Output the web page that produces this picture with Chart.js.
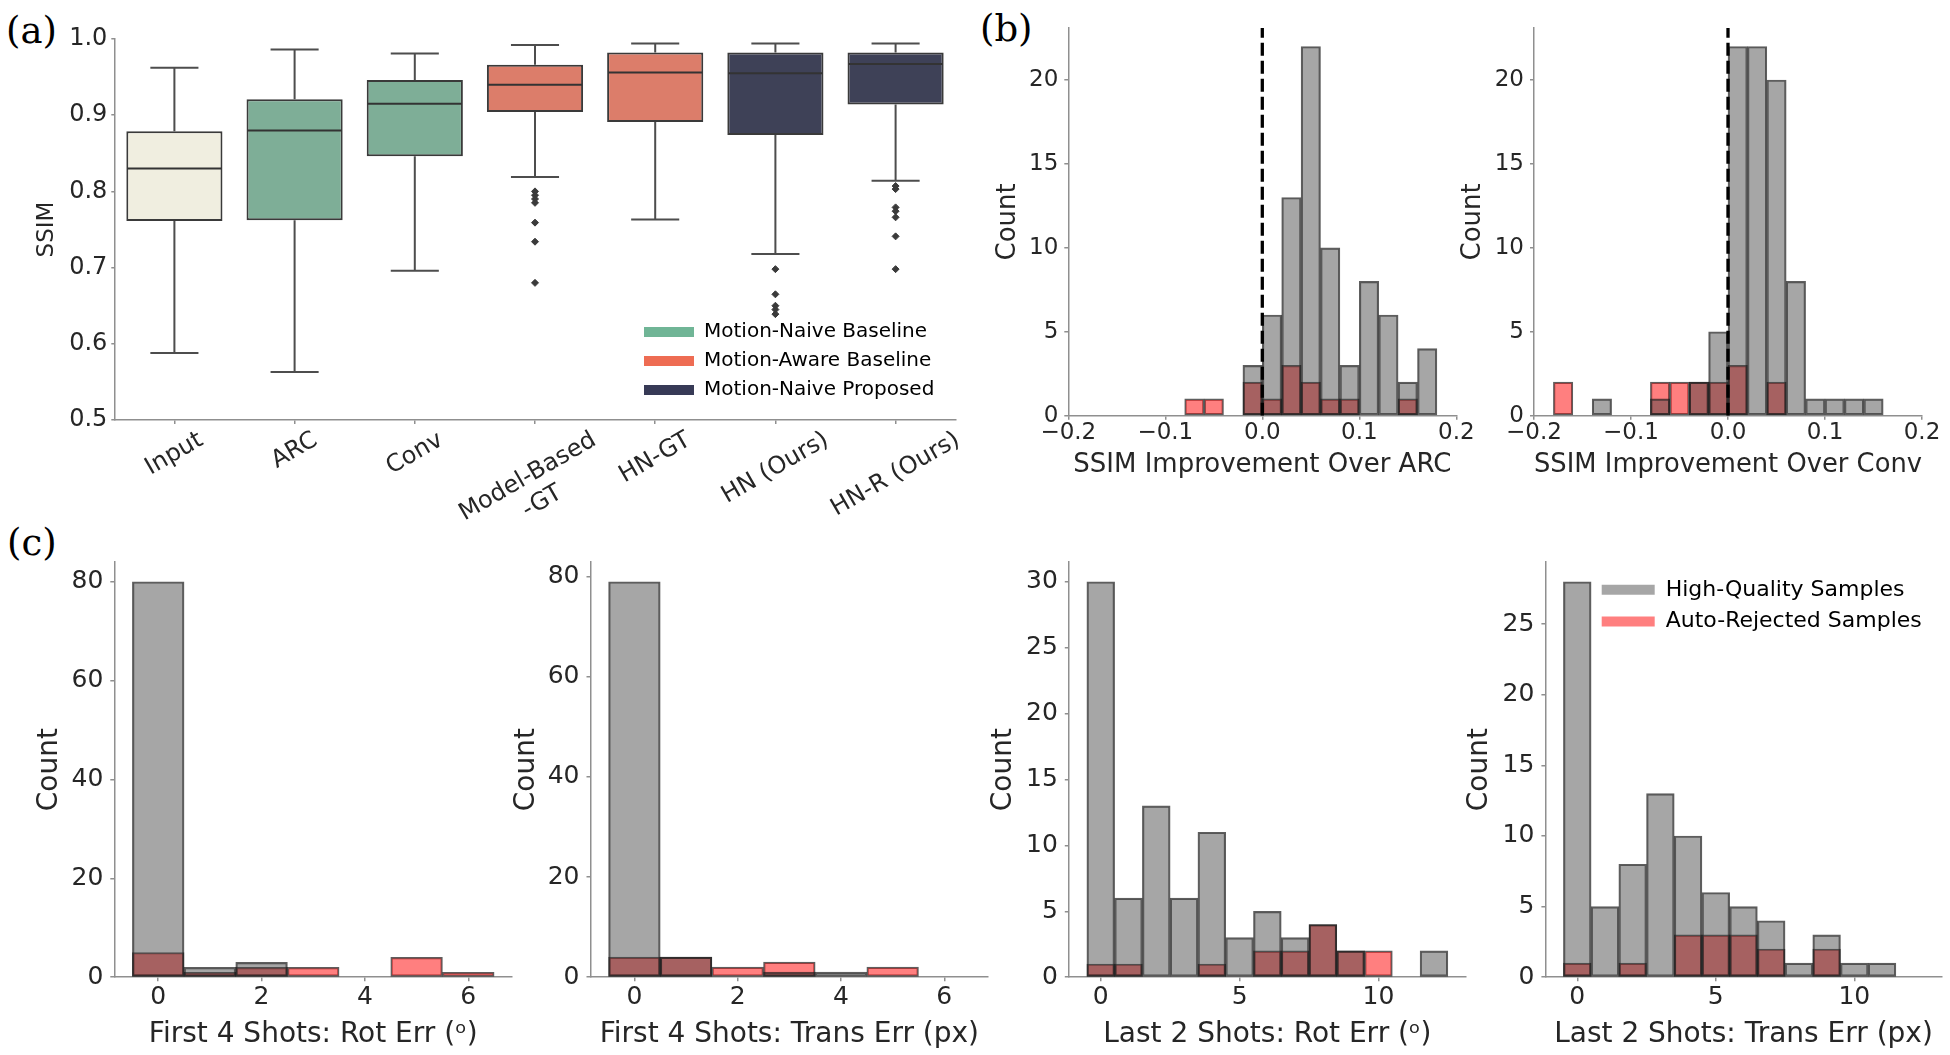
<!DOCTYPE html>
<html>
<head>
<meta charset="utf-8">
<script src="https://cdn.jsdelivr.net/npm/chart.js@4.4.1/dist/chart.umd.min.js"></script>
<style>
html,body{margin:0;padding:0;background:#ffffff;}
body{width:1950px;height:1055px;position:relative;overflow:hidden;font-family:"DejaVu Sans",sans-serif;}
.panel{position:absolute;font-family:"DejaVu Serif",serif;font-size:37px;line-height:37px;color:#000;}
</style>
</head>
<body>
<div class="panel" style="left:6px;top:12px">(a)</div>
<div class="panel" style="left:980px;top:10px">(b)</div>
<div class="panel" style="left:7px;top:524px">(c)</div>
<script>
// ---------------- DATA ----------------
// Panel (a): box plot of SSIM
const boxCategories = ['Input', 'ARC', 'Conv', 'Model-Based\n-GT', 'HN-GT', 'HN (Ours)', 'HN-R (Ours)'];
const boxGroups = ['input', 'naive', 'naive', 'aware', 'aware', 'proposed', 'proposed'];
const whiskerLow  = [0.588, 0.563, 0.696, 0.819, 0.763, 0.718, 0.814];
const q1          = [0.761, 0.762, 0.846, 0.904, 0.891, 0.874, 0.914];
const median      = [0.830, 0.880, 0.915, 0.940, 0.956, 0.955, 0.967];
const q3          = [0.879, 0.921, 0.946, 0.966, 0.982, 0.982, 0.982];
const whiskerHigh = [0.962, 0.986, 0.981, 0.992, 0.994, 0.994, 0.994];
const outliersModelBased = [0.800, 0.795, 0.790, 0.785, 0.759, 0.734, 0.680];
const outliersHN = [0.698, 0.665, 0.650, 0.645, 0.639];
const outliersHNR = [0.807, 0.803, 0.779, 0.774, 0.766, 0.741, 0.698];
const boxLegendLabels = ['Motion-Naive Baseline', 'Motion-Aware Baseline', 'Motion-Naive Proposed'];

// Panel (b): SSIM improvement histograms
const seriesNames = ['High-Quality Samples', 'Auto-Rejected Samples'];
const arcBins     = [-0.07, -0.05, -0.01, 0.01, 0.03, 0.05, 0.07, 0.09, 0.11, 0.13, 0.15, 0.17];
const arcHigh     = [0, 0, 3, 6, 13, 22, 10, 3, 8, 6, 2, 4];
const arcRejected = [1, 1, 2, 1, 3, 2, 1, 1, 0, 0, 1, 0];
const convBins     = [-0.17, -0.13, -0.07, -0.05, -0.03, -0.01, 0.01, 0.03, 0.05, 0.07, 0.09, 0.11, 0.13, 0.15];
const convHigh     = [0, 1, 1, 0, 2, 5, 22, 22, 20, 8, 1, 1, 1, 1];
const convRejected = [2, 0, 2, 2, 2, 2, 3, 0, 2, 0, 0, 0, 0, 0];
const ssimTicks = [-0.2, -0.1, 0.0, 0.1, 0.2];

// Panel (c): motion error histograms
const first4Bins = [0, 1, 2, 3, 4, 5, 6];
const first4RotHigh     = [80, 2, 3, 0, 0, 0, 0];
const first4RotRejected = [5, 1, 2, 2, 0, 4, 1];
const first4TransHigh     = [79, 4, 0, 1, 1, 0, 0];
const first4TransRejected = [4, 4, 2, 3, 0, 2, 0];
const last2RotBins = [0, 1, 2, 3, 4, 5, 6, 7, 8, 9, 10, 11, 12];
const last2RotHigh     = [30, 6, 13, 6, 11, 3, 5, 3, 4, 2, 0, 0, 2];
const last2RotRejected = [1, 1, 0, 0, 1, 0, 2, 2, 4, 2, 2, 0, 0];
const last2TransBins = [0, 1, 2, 3, 4, 5, 6, 7, 8, 9, 10, 11];
const last2TransHigh     = [28, 5, 8, 13, 10, 6, 5, 4, 1, 3, 1, 1];
const last2TransRejected = [1, 0, 1, 0, 3, 3, 3, 2, 0, 2, 0, 0];

// ---------------- STYLE ----------------
Chart.defaults.font.family = '"DejaVu Sans", sans-serif';
Chart.defaults.color = '#262626';
const TEXT = '#262626';
const AXIS = '#8f8f8f';
const GRAY = 'rgba(60,60,60,0.46)';
const RED = 'rgba(255,0,0,0.5)';
const EDGE = 'rgba(25,25,25,0.7)';
const groupFill = { input: '#f0eee0', naive: '#7eae97', aware: '#dc7d6a', proposed: '#3e4157' };
const legendFill = ['#70b596', '#ee6c53', '#373a56'];

function mount(id, c) {
  const d = document.createElement('div');
  d.style.cssText = 'position:absolute;left:' + c.L + 'px;top:' + c.T + 'px;width:' + c.W + 'px;height:' + c.H + 'px;';
  const cv = document.createElement('canvas');
  cv.id = id;
  d.appendChild(cv);
  document.body.appendChild(d);
  return cv;
}
function frame(c, a) {
  return { yW: a.l - c.L, xH: c.T + c.H - a.b, padTop: a.t - c.T, padRight: c.L + c.W - a.r };
}

const legendPlace = {
  id: 'legendPlace',
  afterLayout(chart, args, opts) {
    const lg = chart.legend;
    if (!lg || !opts || opts.left == null) return;
    lg.left = opts.left; lg.top = opts.top;
    lg.right = opts.left + 600; lg.bottom = opts.top + 300;
    lg.width = 600; lg.height = 300;
  }
};

// ---------------- PANEL (a) ----------------
const boxFrameC = { L: 0, T: 0, W: 965, H: 545 };
const boxFrameA = { l: 114.3, t: 38.9, r: 955.7, b: 420.1 };
const fA = frame(boxFrameC, boxFrameA);

const outlierPoints = [].concat(
  outliersModelBased.map(v => ({ x: 'Model-Based\n-GT', y: v })),
  outliersHN.map(v => ({ x: 'HN (Ours)', y: v })),
  outliersHNR.map(v => ({ x: 'HN-R (Ours)', y: v }))
);

const boxParts = {
  id: 'boxParts',
  beforeDatasetsDraw(chart) {
    const { ctx } = chart; const x = chart.scales.x, y = chart.scales.y;
    const meta = chart.getDatasetMeta(1);
    ctx.save();
    ctx.strokeStyle = '#4d4d4d'; ctx.lineWidth = 2;
    boxCategories.forEach((c, i) => {
      const px = x.getPixelForValue(i);
      const capHalf = meta.data[i].width / 4;
      const yH = y.getPixelForValue(whiskerHigh[i]), yL = y.getPixelForValue(whiskerLow[i]);
      ctx.beginPath();
      ctx.moveTo(px, y.getPixelForValue(q3[i])); ctx.lineTo(px, yH);
      ctx.moveTo(px - capHalf, yH); ctx.lineTo(px + capHalf, yH);
      ctx.moveTo(px, y.getPixelForValue(q1[i])); ctx.lineTo(px, yL);
      ctx.moveTo(px - capHalf, yL); ctx.lineTo(px + capHalf, yL);
      ctx.stroke();
    });
    ctx.restore();
  },
  afterDatasetsDraw(chart) {
    const { ctx } = chart; const x = chart.scales.x, y = chart.scales.y;
    const meta = chart.getDatasetMeta(1);
    ctx.save();
    ctx.strokeStyle = '#333333'; ctx.lineWidth = 2;
    boxCategories.forEach((c, i) => {
      const px = x.getPixelForValue(i);
      const half = meta.data[i].width / 2 - 1;
      const ym = y.getPixelForValue(median[i]);
      ctx.beginPath(); ctx.moveTo(px - half, ym); ctx.lineTo(px + half, ym); ctx.stroke();
    });
    ctx.restore();
  },
  afterDraw(chart) {
    const { ctx } = chart; const x = chart.scales.x;
    const size = 24, lh = size * 1.2, th = 30 * Math.PI / 180;
    ctx.save();
    ctx.font = size + 'px "DejaVu Sans", sans-serif';
    ctx.fillStyle = TEXT;
    boxCategories.forEach((c, i) => {
      const lines = c.split('\n');
      const w = Math.max.apply(null, lines.map(l => ctx.measureText(l).width));
      const h = size * 1.0 + (lines.length - 1) * lh;
      const H = w * Math.sin(th) + h * Math.cos(th);
      const cx = x.getPixelForValue(i), cy = x.top + 8 + H / 2;
      ctx.save();
      ctx.translate(cx, cy); ctx.rotate(-th);
      ctx.textAlign = 'center'; ctx.textBaseline = 'middle';
      lines.forEach((l, k) => ctx.fillText(l, 0, (k - (lines.length - 1) / 2) * lh));
      ctx.restore();
    });
    ctx.restore();
  }
};

new Chart(mount('chartA', boxFrameC), {
  type: 'bar',
  data: {
    labels: boxCategories,
    datasets: [
      { type: 'line', label: 'Outliers', data: outlierPoints, showLine: false, pointStyle: 'rectRot',
        pointRadius: 3.5, pointHoverRadius: 3.5, backgroundColor: '#3a3a3a', borderColor: '#3a3a3a', borderWidth: 1, order: 0 },
      { type: 'bar', label: 'SSIM', data: q1.map((v, i) => [v, q3[i]]), backgroundColor: boxGroups.map(g => groupFill[g]),
        borderColor: '#3a3a3a', borderWidth: 2, borderSkipped: false, barPercentage: 0.8, categoryPercentage: 1, order: 1 }
    ]
  },
  options: {
    responsive: true, maintainAspectRatio: false, animation: false, events: [],
    layout: { autoPadding: false, padding: { top: fA.padTop, right: fA.padRight, left: 0, bottom: 0 } },
    plugins: {
      tooltip: { enabled: false },
      legend: {
        display: true, position: 'chartArea', align: 'start',
        labels: {
          boxWidth: 50, boxHeight: 10, padding: 9, font: { size: 20 }, color: TEXT,
          generateLabels: () => boxLegendLabels.map((t, i) => ({ text: t, fillStyle: legendFill[i], strokeStyle: legendFill[i], lineWidth: 0, hidden: false, index: i }))
        }
      },
      legendPlace: { left: 635, top: 313 }
    },
    scales: {
      x: {
        type: 'category', offset: true,
        grid: { display: true, drawOnChartArea: false, drawTicks: true, tickLength: 4, color: AXIS, lineWidth: 1.5, offset: false },
        border: { display: true, color: AXIS, width: 1.5 },
        ticks: { display: false },
        afterFit(s) { s.height = fA.xH; s.paddingLeft = 0; s.paddingRight = 0; }
      },
      y: {
        type: 'linear', min: 0.5, max: 1.0,
        grid: { display: true, drawOnChartArea: false, drawTicks: true, tickLength: 3, color: AXIS, lineWidth: 1.5 },
        border: { display: true, color: AXIS, width: 1.5 },
        ticks: { stepSize: 0.1, padding: 4, font: { size: 24 }, color: TEXT, callback: v => Number(v).toFixed(1) },
        title: { display: true, text: 'SSIM', font: { size: 23 }, color: TEXT, padding: { top: 32.9, bottom: 0 } },
        afterFit(s) { s.width = fA.yW; s.paddingTop = 0; s.paddingBottom = 0; }
      }
    }
  },
  plugins: [boxParts, legendPlace]
});

// ---------------- HISTOGRAMS ----------------
function histogram(id, o) {
  const f = frame(o.c, o.a);
  const toPts = (bins, vals) => bins.map((b, i) => ({ x: b, y: vals[i] })).filter(p => p.y > 0);
  const datasets = [];
  if (o.zeroLine) {
    datasets.push({ type: 'line', label: 'zero', data: [{ x: 0, y: 0 }, { x: 0, y: o.yMax }], borderColor: '#000000',
      borderWidth: 3.3, borderDash: [13, 5], pointRadius: 0, fill: false, order: 0 });
  }
  datasets.push({ type: 'bar', label: seriesNames[0], data: toPts(o.bins, o.high), backgroundColor: GRAY, borderColor: EDGE,
    borderWidth: 1.5, borderSkipped: false, grouped: false, barPercentage: 1, categoryPercentage: 1, order: 1 });
  datasets.push({ type: 'bar', label: seriesNames[1], data: toPts(o.bins, o.rejected), backgroundColor: RED, borderColor: EDGE,
    borderWidth: 1.5, borderSkipped: false, grouped: false, barPercentage: 1, categoryPercentage: 1, order: 2 });
  const legendOpts = o.legend ? {
    display: true, position: 'chartArea', align: 'start',
    labels: {
      boxWidth: 53, boxHeight: 10, padding: 9.8, font: { size: 22 }, color: TEXT,
      generateLabels: chart => chart.data.datasets.filter(d => d.type === 'bar').map((d, i) => ({ text: d.label, fillStyle: d.backgroundColor, strokeStyle: d.backgroundColor, lineWidth: 0, hidden: false, index: i }))
    }
  } : { display: false };
  return new Chart(mount(id, o.c), {
    type: 'bar',
    data: { datasets },
    options: {
      responsive: true, maintainAspectRatio: false, animation: false, events: [],
      layout: { autoPadding: false, padding: { top: f.padTop, right: f.padRight, left: 0, bottom: 0 } },
      plugins: { tooltip: { enabled: false }, legend: legendOpts, legendPlace: o.legendPos || {} },
      scales: {
        x: {
          type: 'linear', min: o.xMin, max: o.xMax, offset: false,
          grid: { display: true, drawOnChartArea: false, drawTicks: true, tickLength: 4, color: AXIS, lineWidth: 1.5, offset: false },
          border: { display: true, color: AXIS, width: 1.5 },
          ticks: { stepSize: o.xStep, includeBounds: false, autoSkip: false, maxRotation: 0, minRotation: 0, padding: o.xPad,
            font: { size: o.tickSize }, color: TEXT, callback: o.xFmt },
          title: { display: true, text: o.xTitle, font: { size: o.titleSize }, color: TEXT, padding: { top: 0, bottom: o.xTitlePad } },
          afterFit(s) { s.height = f.xH; s.paddingLeft = 0; s.paddingRight = 0; }
        },
        y: {
          type: 'linear', min: 0, max: o.yMax,
          grid: { display: true, drawOnChartArea: false, drawTicks: true, tickLength: 4, color: AXIS, lineWidth: 1.5 },
          border: { display: true, color: AXIS, width: 1.5 },
          ticks: { stepSize: o.yStep, includeBounds: false, padding: o.yPad, font: { size: o.tickSize }, color: TEXT, callback: v => String(v) },
          title: { display: true, text: 'Count', font: { size: o.titleSize }, color: TEXT, padding: { top: o.yTitlePad, bottom: 0 } },
          afterFit(s) { s.width = f.yW; s.paddingTop = 0; s.paddingBottom = 0; }
        }
      }
    },
    plugins: [legendPlace]
  });
}

const ssimFmt = v => {
  const r = Math.round(v * 10) / 10;
  return (r < 0 ? '\u2212' : '') + Math.abs(r).toFixed(1);
};
const intFmt = v => String(Math.round(v));

histogram('chartB1', {
  c: { L: 965, T: 0, W: 525, H: 510 }, a: { l: 1068.3, t: 28, r: 1456.3, b: 415.7 },
  bins: arcBins, high: arcHigh, rejected: arcRejected, zeroLine: true,
  xMin: ssimTicks[0], xMax: ssimTicks[ssimTicks.length - 1], xStep: 0.1, xFmt: ssimFmt,
  yMax: 23.1, yStep: 5, tickSize: 23, titleSize: 26, xPad: 0, yPad: 6,
  xTitle: 'SSIM Improvement Over ARC', xTitlePad: 29.4, yTitlePad: 27.7
});
histogram('chartB2', {
  c: { L: 1440, T: 0, W: 510, H: 510 }, a: { l: 1534, t: 28, r: 1922, b: 415.7 },
  bins: convBins, high: convHigh, rejected: convRejected, zeroLine: true,
  xMin: ssimTicks[0], xMax: ssimTicks[ssimTicks.length - 1], xStep: 0.1, xFmt: ssimFmt,
  yMax: 23.1, yStep: 5, tickSize: 23, titleSize: 26, xPad: 0, yPad: 6,
  xTitle: 'SSIM Improvement Over Conv', xTitlePad: 29.4, yTitlePad: 17.7
});
histogram('chartC1', {
  c: { L: 0, T: 520, W: 520, H: 535 }, a: { l: 114.3, t: 562, r: 512.2, b: 977.2 },
  bins: first4Bins, high: first4RotHigh, rejected: first4RotRejected,
  xMin: -0.85, xMax: 6.85, xStep: 2, xFmt: intFmt,
  yMax: 84, yStep: 20, tickSize: 25, titleSize: 28, xPad: 1.4, yPad: 7,
  xTitle: 'First 4 Shots: Rot Err (\u1d52)', xTitlePad: 3, yTitlePad: 33.2
});
histogram('chartC2', {
  c: { L: 480, T: 520, W: 515, H: 535 }, a: { l: 590.5, t: 562, r: 988.2, b: 977.2 },
  bins: first4Bins, high: first4TransHigh, rejected: first4TransRejected,
  xMin: -0.85, xMax: 6.85, xStep: 2, xFmt: intFmt,
  yMax: 82.95, yStep: 20, tickSize: 25, titleSize: 28, xPad: 1.4, yPad: 7,
  xTitle: 'First 4 Shots: Trans Err (px)', xTitlePad: 3, yTitlePad: 29.9
});
histogram('chartC3', {
  c: { L: 960, T: 520, W: 515, H: 535 }, a: { l: 1068.8, t: 562, r: 1465.9, b: 977.2 },
  bins: last2RotBins, high: last2RotHigh, rejected: last2RotRejected,
  xMin: -1.15, xMax: 13.15, xStep: 5, xFmt: intFmt,
  yMax: 31.5, yStep: 5, tickSize: 25, titleSize: 28, xPad: 1.4, yPad: 7,
  xTitle: 'Last 2 Shots: Rot Err (\u1d52)', xTitlePad: 3, yTitlePad: 26.5
});
histogram('chartC4', {
  c: { L: 1440, T: 520, W: 510, H: 535 }, a: { l: 1545.4, t: 562, r: 1941.6, b: 977.2 },
  bins: last2TransBins, high: last2TransHigh, rejected: last2TransRejected,
  xMin: -1.15, xMax: 13.15, xStep: 5, xFmt: intFmt,
  yMax: 29.4, yStep: 5, tickSize: 25, titleSize: 28, xPad: 1.4, yPad: 7,
  xTitle: 'Last 2 Shots: Trans Err (px)', xTitlePad: 3, yTitlePad: 23.2,
  legend: true, legendPos: { left: 151.9, top: 49 }
});
</script>
</body>
</html>
